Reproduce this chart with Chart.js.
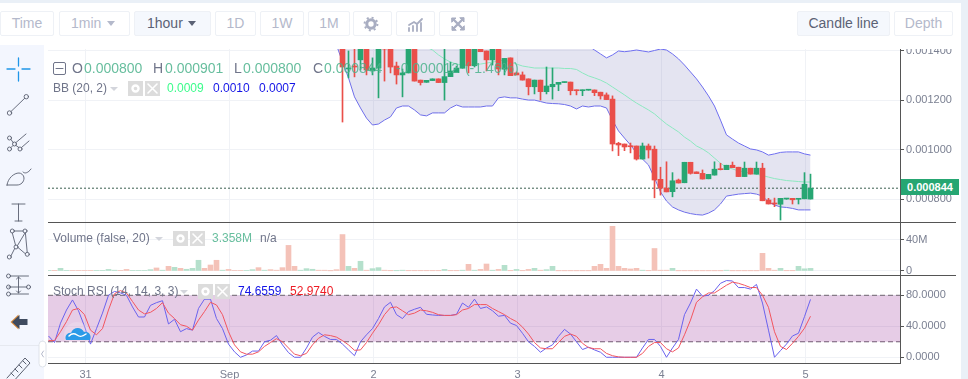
<!DOCTYPE html>
<html>
<head>
<meta charset="utf-8">
<title>Candle chart</title>
<script src="https://cdn.jsdelivr.net/npm/chart.js@4/dist/chart.umd.js"></script>
<style>
  html, body { margin: 0; padding: 0; width: 968px; height: 379px; overflow: hidden; background: #eaf0f7; font-family: "Liberation Sans", Arial, sans-serif; }
  #panel { position: absolute; left: 0; top: 3px; width: 961px; height: 376px; background: #fff; }
  #tools { position: absolute; left: 0; top: 45px; width: 44px; height: 334px; background: #f3f6fe; }
  canvas { position: absolute; left: 48px; }
  .btn { position: absolute; top: 11px; height: 23px; line-height: 23px; border: 1px solid #eef1f6; border-radius: 2px; text-align: center; font-size: 14px; color: #b4b9cb; background: #fff; }
  .btn.on { background: #f5f8fd; color: #5b6275; }
  .sep { position: absolute; height: 1px; background: #555; left: 48px; z-index: 3; }
  .t { position: absolute; white-space: nowrap; z-index: 5; font-size: 12px; line-height: 14px; color: #70758a; }
  .big { font-size: 14px; }
  .val { color: #4db38d; opacity: 0.85; }
  #tag { position: absolute; left: 901px; top: 179px; width: 58px; height: 16px; line-height: 16px; text-align: center; background: #26a672; color: #fff; font-size: 11px; font-weight: bold; z-index: 5; }
  svg { position: absolute; left: 0; top: 0; z-index: 4; pointer-events: none; }
</style>
</head>
<body>
<div id="panel"></div>
<div id="tools"></div>

<!-- top toolbar -->
<div class="btn" style="left:0;width:52px">Time</div>
<div class="btn" style="left:59px;width:69px;text-align:left;text-indent:11px">1min</div>
<div class="btn on" style="left:134px;width:75px;text-align:left;text-indent:12px">1hour</div>
<div class="btn" style="left:215px;width:39px">1D</div>
<div class="btn" style="left:260px;width:42px">1W</div>
<div class="btn" style="left:308px;width:40px">1M</div>
<div class="btn" style="left:353px;width:37px"></div>
<div class="btn" style="left:396px;width:37px"></div>
<div class="btn" style="left:439px;width:37px"></div>
<div class="btn on" style="left:797px;width:91px">Candle line</div>
<div class="btn" style="left:894px;width:57px">Depth</div>

<canvas id="priceChart" width="920" height="173" style="top:49px"></canvas>
<canvas id="volumeChart" width="920" height="53" style="top:222px"></canvas>
<canvas id="stochChart" width="920" height="104" style="top:275px"></canvas>

<div class="sep" style="top:222px;width:908px"></div>
<div class="sep" style="top:275px;width:908px"></div>
<div class="sep" style="top:363px;width:852px"></div>

<!-- legends -->
<span class="t big" style="left:72px;top:61px">O</span><span class="t big val" style="left:84px;top:61px">0.000800</span>
<span class="t big" style="left:153px;top:61px">H</span><span class="t big val" style="left:165px;top:61px">0.000901</span>
<span class="t big" style="left:234px;top:61px">L</span><span class="t big val" style="left:243px;top:61px">0.000800</span>
<span class="t big" style="left:313px;top:61px">C</span><span class="t big val" style="left:324px;top:61px">0.000844</span>
<span class="t big val" style="left:396px;top:61px;word-spacing:2px">-0.000012 (-1.46%)</span>

<span class="t" style="left:53px;top:81px">BB (20, 2)</span>
<span class="t" style="left:167px;top:81px;color:#3dfc8c">0.0009</span>
<span class="t" style="left:213px;top:81px;color:#1414e6">0.0010</span>
<span class="t" style="left:259px;top:81px;color:#1414e6">0.0007</span>

<span class="t" style="left:53px;top:231px">Volume (false, 20)</span>
<span class="t val" style="left:212px;top:231px">3.358M</span>
<span class="t" style="left:260px;top:231px">n/a</span>

<span class="t" style="left:53px;top:284px">Stoch RSI (14, 14, 3, 3)</span>
<span class="t" style="left:238px;top:284px;color:#1414e6">74.6559</span>
<span class="t" style="left:290px;top:284px;color:#ee1c25">52.9740</span>

<div id="tag">0.000844</div>

<!-- icons, none of this is chart data -->
<svg width="968" height="379" fill="none" stroke-linecap="round">
  <defs>
    <g id="closeBoxes">
      <rect x="0" y="-7" width="15" height="15" fill="#dcdcdc"/>
      <circle cx="7.5" cy="0.5" r="3" stroke="#fff" stroke-width="2.4"/>
      <rect x="17" y="-7" width="15" height="15" fill="#dcdcdc"/>
      <path d="M20 -4 L29 5 M29 -4 L20 5" stroke="#fff" stroke-width="1.6"/>
    </g>
  </defs>
  <!-- drop arrows -->
  <path d="M107 21 h8 l-4 5 z" fill="#b4b9cb"/>
  <path d="M188 21 h8 l-4 5 z" fill="#5b6275"/>
  <path d="M110 87 h8 l-4 4 z" fill="#d3d5dc"/>
  <path d="M155 237 h8 l-4 4 z" fill="#d3d5dc"/>
  <path d="M180 290 h8 l-4 4 z" fill="#d3d5dc"/>
  <use href="#closeBoxes" x="128" y="88"/>
  <use href="#closeBoxes" x="173" y="238"/>
  <use href="#closeBoxes" x="198" y="291"/>
  <!-- minus box of the legend -->
  <rect x="53.5" y="62.5" width="12" height="12" rx="1.5" stroke="#70758a"/>
  <path d="M56 68.5 h7" stroke="#70758a"/>
  <!-- gear, indicator and fullscreen buttons -->
  <circle cx="371" cy="24" r="4.2" stroke="#a9aec2" stroke-width="3"/>
  <circle cx="371" cy="24" r="6.4" stroke="#a9aec2" stroke-width="2" stroke-dasharray="2 3" stroke-linecap="butt"/>
  <path d="M409 31 v-3 M413 31 v-5 M417 31 v-6 M421 31 v-8 M409 25 l5 -3 3 2 5 -5" stroke="#a9aec2" stroke-width="1.8"/>
  <path d="M453 19 l10 10 M463 19 l-10 10" stroke="#a9aec2" stroke-width="2.4"/>
  <path d="M452 18 h4 l-4 4 z M464 18 v4 l-4 -4 z M452 30 v-4 l4 4 z M464 30 h-4 l4 -4 z" fill="#a9aec2" stroke="#a9aec2"/>
  <!-- left drawing tools -->
  <path d="M18.5 58 v8 M18.5 72 v9 M7 69 h8 M22 69 h8" stroke="#1f96e8" stroke-width="1.3"/>
  <g stroke="#5a6070" stroke-width="0.9">
    <circle cx="9.5" cy="113" r="2.2"/><circle cx="26.3" cy="96.7" r="2.2"/><path d="M11 111.5 L24.7 98.3"/>
    <circle cx="9.5" cy="138" r="2"/><circle cx="9.5" cy="149" r="2"/><circle cx="20" cy="149" r="2"/><circle cx="14.5" cy="144" r="2"/>
    <path d="M11 139.5 L13.2 142.7 M16 142.5 L26 134 M11 147.5 L13 145.5 M21.5 147.5 L29 141 M16 145.5 L18.8 147.5"/>
    <path d="M7 185 h10 c4 0 7 -3 7 -7 c0 -3 -3 -5 -5 -5 c-5 0 -11 5 -12 12 z M23 172 c2 2 5 1 8 -3"/>
    <path d="M12 204 h13 M18.5 204 v17 M15 221 h7"/>
    <circle cx="12.3" cy="231" r="2"/><circle cx="25" cy="231" r="2"/><circle cx="16" cy="247" r="2"/><circle cx="9.3" cy="257" r="2"/><circle cx="27.3" cy="254.3" r="2"/>
    <path d="M12.3 233 L15.5 245 M25 233 L17.5 245.5 M11 255.8 L14.7 248.5 M18 247.5 L25.3 253.7 M25.4 233 L27.2 252.3 M14.3 231 L23 231"/>
    <path d="M10.5 276 h18 M9 287 h18 M10.5 294 h18"/>
    <circle cx="8.5" cy="276" r="2"/><circle cx="8.5" cy="287" r="2"/><circle cx="28.5" cy="287" r="2"/><circle cx="8.5" cy="294" r="2"/>
    <path d="M18.5 277 v16 M16.5 279 l2 -2 2 2 M16.5 291 l2 2 2 -2"/>
  </g>
  <path d="M10.5 322 l8 -7.5 v4.5 h8.5 v6 h-8.5 v4.5 z" fill="#d98a3a"/>
  <path d="M12 322 l7.5 -7 v4 h8 v6 h-8 v4 z" fill="#3f4b5f"/>
  <path d="M0 345.5 h44" stroke="#e6e9f0"/>
  <rect x="39" y="341" width="7" height="26" rx="3.5" fill="#fff" stroke="#dfe3ea"/>
  <path d="M43.5 351 l-2 3 2 3" stroke="#b4b9cb"/>
  <path d="M7 378 L25 358 L30 363 L12 383" stroke="#5a6070"/>
  <path d="M11 373 l3 3 M15 369 l3 3 M19 365 l3 3 M23 361 l3 3" stroke="#5a6070"/>
  <!-- cloud watermark -->
  <circle cx="77" cy="335" r="13" fill="#fff" opacity="0.18"/>
  <path d="M66 340 c-2 -5 3 -8 5 -7 c2 -6 10 -7 13 -1 c5 -1 8 4 6 8 z" fill="#2b9ae8"/>
  <path d="M69 336 c3 -3 5 -3 8 -1 s5 2 9 -1" stroke="#fff" stroke-width="1.5"/>
</svg>

<script>
// Candles are one hour apart, hour 0 is 31 Aug 00:00. Prices are in millionths.
const firstCandleHour = 43;
const opens = [1445,1327,1339,1364,1445,1319,1331,1416,1445,1339,
  1303,1311,1445,1282,1273,1280,1287,1272,1296,1312,
  1330,1445,1340,1445,1400,1364,1445,1326,1372,1311,
  1303,1287,1255,1282,1235,1255,1265,1272,1274,1242,
  1239,1241,1242,1233,1222,1205,1026,1023,1016,1015,
  962,1015,1002,880,844,830,877,866,949,910,
  904,882,897,922,919,937,929,891,925,901,
  925,796,783,779,800,803,799,801,800];
const closes = [1335,1331,1335,1445,1323,1331,1445,1412,1335,1303,
  1311,1445,1278,1272,1281,1287,1272,1296,1319,1331,
  1445,1340,1445,1397,1364,1445,1327,1370,1300,1303,
  1282,1255,1282,1235,1258,1265,1273,1274,1239,1239,
  1242,1242,1231,1218,1203,1023,1019,1011,1012,962,
  1015,999,877,844,829,874,865,949,904,903,
  881,900,921,919,937,927,891,925,901,925,
  793,780,780,803,803,797,803,860,844];
const highs = [1445,1400,1408,1445,1445,1372,1445,1445,1445,1355,
  1327,1445,1445,1282,1281,1287,1287,1445,1355,1339,
  1445,1445,1445,1445,1400,1445,1445,1370,1372,1315,
  1315,1287,1282,1282,1335,1331,1273,1274,1274,1242,
  1242,1242,1242,1233,1230,1218,1030,1023,1027,1015,
  1027,1023,1015,929,951,907,881,949,949,910,
  918,900,951,945,937,950,929,950,925,950,
  945,803,804,803,803,803,803,907,901];
const lows = [1112,1291,1295,1323,1303,1303,1210,1278,1311,1266,
  1214,1311,1278,1262,1273,1280,1272,1201,1296,1312,
  1330,1311,1335,1397,1319,1343,1303,1303,1300,1303,
  1282,1222,1226,1201,1226,1205,1239,1272,1222,1222,
  1219,1241,1219,1205,1203,995,976,996,987,958,
  962,966,805,816,829,809,865,866,901,903,
  881,882,897,918,919,927,891,891,901,901,
  793,780,769,715,799,780,780,801,800];
const lastPrice = 844;

// Bollinger bands start one hour before the first candle, the early part is above the visible range
const bbFirstHour = 42;
const bbUpper = [1650,1655,1660,1662,1665,1668,1670,1672,1670,1668,
  1665,1660,1650,1640,1635,1630,1622,1618,1612,1608,
  1600,1594,1590,1582,1575,1570,1560,1552,1545,1538,
  1530,1520,1512,1505,1498,1490,1482,1473,1465,1452,
  1442,1432,
  1420,1404,1388,1372,1384,1400,1397,1400,1404,1400,
  1396,1402,1408,1404,1388,1368,1343,1315,1287,1254,
  1218,1177,1120,1060,1043,1027,1015,1003,999,991,
  978,983,989,991,991,991,983,978];
const bbMiddle = [1560,1550,1540,1532,1525,1515,1505,1495,1485,1475,
  1465,1455,1445,1435,1425,1415,
  1404,1384,1368,1355,1347,1343,1343,1345,1347,1351,
  1355,1359,1364,1355,1347,1339,1335,1331,1331,1331,
  1331,1331,1329,1329,1325,1311,1299,1291,1282,1270,
  1254,1238,1222,1205,1189,1175,1161,1145,1124,1104,
  1088,1072,1051,1035,1015,1003,987,966,945,929,
  922,914,910,905,901,895,889,883,879,875,
  873,871,869,869];
const bbLower = [1424,
  1355,1291,1214,1169,1128,1100,1104,1120,1133,1169,
  1177,1177,1161,1141,1137,1149,1149,1149,1169,1181,
  1173,1173,1173,1173,1177,1177,1210,1214,1210,1210,
  1205,1201,1201,1195,1189,1187,1186,1183,1177,1165,
  1177,1173,1177,1177,1169,1120,1076,1047,1019,987,
  962,938,885,829,792,768,756,747,741,737,
  735,743,756,780,812,816,820,822,824,820,
  812,788,776,768,766,762,756,756,756];

// Volume and stoch RSI run over the whole width, from hour -6 to hour 121
const paneFirstHour = -6;
const volumes = [.5,.4,3.4,.8,.5,.5,.5,.5,.5,.5,
  2,1,.5,2,.5,.5,.5,1.7,3.9,1,
  6,4.7,3.4,2.2,3.4,13.8,3.4,7.7,13.8,1,
  2,.8,.5,.5,1.7,4.3,1,1.7,1,4.3,
  33,6,1,3,2.2,1,1,.2,1.7,47,
  6,3.4,12.5,1,3,4.3,1,.3,.3,1,
  .3,.3,.3,.3,.3,.3,2,.3,.3,1,
  8.6,1,2,9,1,2,7.3,.3,2,.3,
  2,3.4,1,1.7,6,.2,.2,.2,.2,.2,
  .2,6,8.6,3.4,57.6,6,3.4,2.6,3.4,1,
  .3,29,1,1,3.4,.2,.2,.2,.2,.2,
  .2,.2,.2,1,.2,.2,.2,.2,.2,22.8,
  3.4,1,3.4,.3,.3,6,2.8,3.358];
const volumeUp = [1,0,1,1,0,0,0,0,1,1,
  1,1,0,0,1,1,1,1,0,1,
  0,1,0,1,1,1,0,0,0,1,
  0,0,0,1,1,0,1,0,0,0,
  0,0,1,1,1,0,0,0,0,0,
  1,0,1,0,1,1,0,0,1,1,
  0,0,0,0,0,0,1,0,0,1,
  0,1,0,0,1,0,1,0,1,0,
  0,1,0,1,1,0,0,0,0,0,
  0,0,0,0,0,0,0,0,0,1,
  0,0,0,0,1,0,0,0,0,0,
  0,0,0,1,0,0,0,0,0,0,
  0,0,1,0,0,1,1,1];
const stochK = [27.5,19,44,61,74,60,40,17,37,57,
  80,85,83,80,65,52,52,67,70.5,73,
  43,49,33,37,35,63,75,75,50,37,
  17,7,0,3,8,8,20,22,28,16,
  6,0,0,12,26,32,27,23,23,17,
  9.5,2,20,29,37,50,65,71,55,50,
  59,62,64.5,55.5,54.6,54,54,54,55.5,70,
  64.5,75,63,65,60,53,54,44,41,31,
  20,14,6.5,12,16,27,36,30,20,10,
  13,9.5,6.5,0,0,0,0,0,0,12,
  23,23,14,0,12,23,55,70,88,79,
  80,86,95.5,99,98.5,90,90,88,94,70,
  35,0,8.6,17,27.5,31,52.5,74.66];
const stochD = [21.5,21.5,33,46,61,63,55,35,29,37,
  61,82,86,83,72,61,56,58,63,70.5,
  57,50,42,40,35,48,59,71,67.5,55,
  33,16,7,4,4,7,14,19,24,20,
  12,4,2,5,16,24.5,29,28,26,21.5,
  16,9,9.5,19,31,42,55,64,65,60,
  55,57,61,60,58,55,54,54,55,61,
  63,68,68,68,63,59,55,50,46,39,
  30,19,12,11,11,19,27,30,27,18,
  12.5,11,11,5,2,0.5,0,0,0,5,
  14,19,19,11,7,12,29,48,71,78,
  83,83,88,93,97,95.5,93,90,90,80,
  64.5,33,14,10,18,27,37.5,52.97];
const stochUpperBand = 80;
const stochLowerBand = 20;

// Axis ticks
const tickHours = [0.17, 24.17, 48.17, 72.17, 96.17, 120.17]; // gridlines sit just right of the candle
const tickLabels = ['31', 'Sep', '2', '3', '4', '5'];
const priceTicks = [1400, 1200, 1000, 800];
const volumeTicks = [40, 0];
const stochTicks = [80, 40, 0];

// Visible hours: 6 pixels per hour over the 852 pixel wide plot
const xMin = -6.0833;
const xMax = xMin + 142;

const red = '#ea4f4a';
const green = '#27a673';
const gridColor = '#f0f2f6';
const textColor = '#7b8092';

// Shared options for the three stacked charts
function paneOptions(yMin, yMax, yTicks, formatTick, xAxisHeight) {
  return {
    responsive: false,
    animation: false,
    layout: { padding: 0 },
    plugins: { legend: { display: false }, tooltip: { enabled: false } },
    scales: {
      x: {
        type: 'linear',
        min: xMin,
        max: xMax,
        offset: false,
        grid: { color: gridColor, offset: false, drawTicks: false },
        border: { display: false },
        afterBuildTicks: (scale) => { scale.ticks = tickHours.map((h) => ({ value: h })); },
        afterFit: (scale) => {
          scale.height = xAxisHeight;
          scale.paddingLeft = 0;
          scale.paddingRight = 0;
        },
        ticks: {
          display: xAxisHeight > 0,
          autoSkip: false,
          maxRotation: 0,
          padding: 5,
          color: textColor,
          font: { size: 11 },
          callback: (value, index) => tickLabels[index]
        }
      },
      y: {
        position: 'right',
        min: yMin,
        max: yMax,
        grid: { color: gridColor, tickColor: '#555', tickLength: 4 },
        border: { color: '#555' },
        afterBuildTicks: (scale) => { scale.ticks = yTicks.map((v) => ({ value: v })); },
        afterFit: (scale) => {
          scale.width = 68;
          scale.paddingTop = 0;
          scale.paddingBottom = 0;
        },
        ticks: {
          padding: 2,
          color: textColor,
          font: { size: 11 },
          callback: formatTick
        }
      }
    }
  };
}

// Turn a list of values into {x, y} points starting at the given hour
function toPoints(values, startHour) {
  return values.map((v, i) => ({ x: startHour + i, y: v }));
}

const candleColors = closes.map((c, i) => (c >= opens[i] ? green : red));

new Chart(document.getElementById('priceChart'), {
  type: 'bar',
  data: {
    datasets: [
      {
        type: 'line', data: toPoints(bbUpper, bbFirstHour), order: 6,
        borderColor: '#6f6ff0', borderWidth: 1, pointRadius: 0,
        fill: '+1', backgroundColor: 'rgba(110,110,180,0.19)'
      },
      {
        type: 'line', data: toPoints(bbLower, bbFirstHour), order: 6,
        borderColor: '#6f6ff0', borderWidth: 1, pointRadius: 0
      },
      {
        type: 'line', data: toPoints(bbMiddle, bbFirstHour), order: 5,
        borderColor: '#8ce8c0', borderWidth: 1, pointRadius: 0
      },
      {
        type: 'line', data: [{ x: xMin, y: lastPrice }, { x: xMax, y: lastPrice }], order: 4,
        borderColor: '#3c5f50', borderWidth: 1, borderDash: [2, 2], pointRadius: 0
      },
      {
        data: highs.map((h, i) => ({ x: firstCandleHour + i, y: [lows[i], h] })), order: 3,
        backgroundColor: candleColors, barThickness: 1, grouped: false
      },
      {
        data: opens.map((o, i) => ({ x: firstCandleHour + i, y: [o, closes[i]] })), order: 2,
        backgroundColor: candleColors, barThickness: 5, minBarLength: 1, grouped: false
      }
    ]
  },
  options: paneOptions(707, 1408, priceTicks, (v) => (v / 1e6).toFixed(6), 0)
});

new Chart(document.getElementById('volumeChart'), {
  type: 'bar',
  data: {
    datasets: [{
      data: toPoints(volumes, paneFirstHour),
      backgroundColor: volumeUp.map((up) => (up ? '#b5e0cc' : '#f4c2b8')),
      barThickness: 5,
      grouped: false
    }]
  },
  options: paneOptions(-5.2, 63.2, volumeTicks, (v) => (v === 0 ? '0' : v + 'M'), 0)
});

new Chart(document.getElementById('stochChart'), {
  type: 'line',
  data: {
    datasets: [
      {
        data: [{ x: xMin, y: stochUpperBand }, { x: xMax, y: stochUpperBand }], order: 4,
        borderColor: '#6e6470', borderWidth: 1, borderDash: [5, 3], pointRadius: 0,
        fill: '+1', backgroundColor: 'rgba(128,0,128,0.2)'
      },
      {
        data: [{ x: xMin, y: stochLowerBand }, { x: xMax, y: stochLowerBand }], order: 4,
        borderColor: '#6e6470', borderWidth: 1, borderDash: [5, 3], pointRadius: 0
      },
      {
        data: toPoints(stochD, paneFirstHour), order: 2,
        borderColor: '#f2555f', borderWidth: 1, pointRadius: 0
      },
      {
        data: toPoints(stochK, paneFirstHour), order: 3,
        borderColor: '#6a62ee', borderWidth: 1, pointRadius: 0
      }
    ]
  },
  options: paneOptions(-7.4, 106.2, stochTicks, (v) => v.toFixed(4), 16)
});
</script>
</body>
</html>
